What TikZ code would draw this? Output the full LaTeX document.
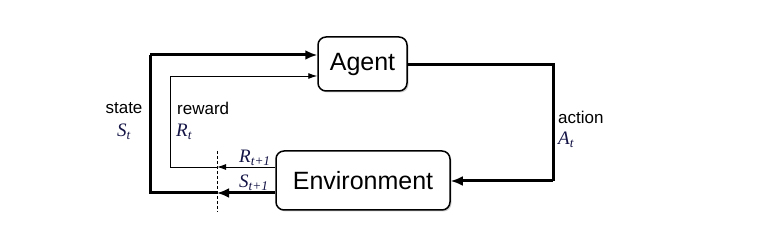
\documentclass[tikz,border=0pt]{standalone}
\usepackage{fontspec}
\setmainfont{Liberation Sans}
\newfontfamily\serifit{Liberation Serif Italic}
\usetikzlibrary{arrows.meta, positioning, calc, shadows}

\definecolor{varcol}{RGB}{20,20,70}
\newcommand{\rlvar}[2]{{\serifit #1\textsubscript{#2}}}

\begin{document}
\begin{tikzpicture}[
  x=1pt, y=-1pt,
  boxnode/.style={draw, line width=1.5pt, rounded corners=8pt, fill=white,
    font=\fontsize{25}{30}\selectfont, inner sep=0pt,
    drop shadow={shadow xshift=1.5pt, shadow yshift=-1.5pt, fill=black!35}},
  thickline/.style={line width=3pt},
  thinline/.style={line width=0.9pt},
  thickarrow/.style={thickline, -{Latex[length=12pt, width=10pt]}},
  thinarrow/.style={thinline, -{Latex[length=9pt, width=6pt]}},
  lbl/.style={font=\fontsize{17}{20}\selectfont, inner sep=0pt},
  varlbl/.style={font=\fontsize{19}{22}\selectfont, text=varcol, inner sep=0pt},
]
\useasboundingbox (0,0) rectangle (770,229);

%% ============ BOXES ============
\node[boxnode, minimum width=89pt, minimum height=54pt] (agent) at (362.5,64) {Agent};
\node[boxnode, minimum width=174pt, minimum height=59pt] (env) at (363,180.5) {Environment};

%% ---- corner points of the loops ----
\coordinate (acorner) at (553,65);
\coordinate (acornerb) at (553,181);
\coordinate (scut) at (217,193);
\coordinate (sbot) at (150,193);
\coordinate (stop) at (150,55);
\coordinate (rcut) at (217,167);
\coordinate (rbot) at (170,167);
\coordinate (rtop) at (170,76);
\coordinate (dtop) at (217,151);
\coordinate (dbot) at (217,212);

%% ============ ACTION ============
\draw[thickline] (agent.east |- acorner) -- (acorner) -- (acornerb);
\draw[thickarrow] (acornerb) -- (env.east |- acornerb);

%% ============ STATE ============
\draw[thickarrow] (env.west |- scut) -- (scut);
\draw[thickline] (scut) -- (sbot) -- (stop);
\draw[thickarrow] (stop) -- (agent.west |- stop);

%% ============ REWARD ============
\draw[thinarrow] (env.west |- rcut) -- (rcut);
\draw[thinline] (rcut) -- (rbot) -- (rtop);
\draw[thinarrow] (rtop) -- (agent.west |- rtop);

%% ---- time step boundary ----
\draw[dashed, dash pattern=on 3pt off 2pt, line width=0.6pt] (dtop) -- (dbot);

%% ============ LABELS ============
\node[lbl] (statelbl) at (124,108) {state};
\node[varlbl] (slbl) at (124,132) {\rlvar{S}{t}};
\node[lbl, anchor=west] (rewardlbl) at (177,108) {reward};
\node[varlbl, anchor=west] (rlbl) at (176,132) {\rlvar{R}{t}};
\node[lbl, anchor=west] (actionlbl) at (558,117) {action};
\node[varlbl, anchor=west] (albl) at (558,140) {\rlvar{A}{t}};
\node[varlbl, anchor=west] (rnext) at (239,158) {\rlvar{R}{t+1}};
\node[varlbl, anchor=west] (snext) at (239,183) {\rlvar{S}{t+1}};

\end{tikzpicture}
\end{document}
